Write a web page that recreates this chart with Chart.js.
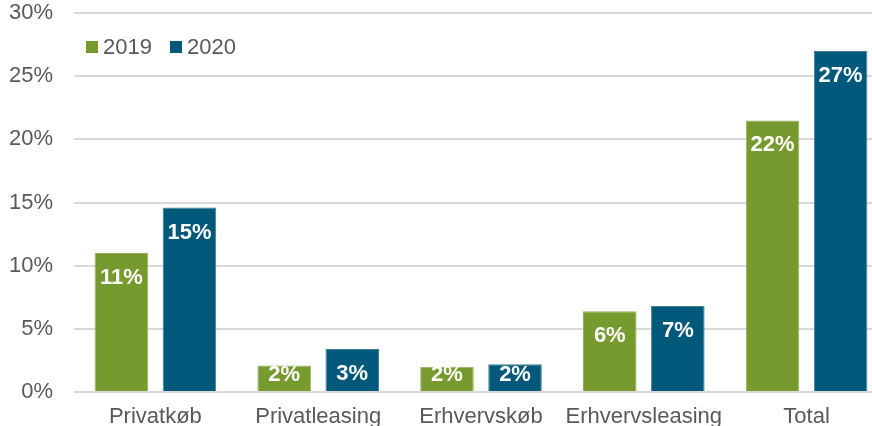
<!DOCTYPE html>
<html>
<head>
<meta charset="utf-8">
<script src="https://cdn.jsdelivr.net/npm/chart.js@4/dist/chart.umd.min.js"></script>
<style>
    html, body { margin: 0; padding: 0; background: #fff; overflow: hidden; }
    #wrap { position: relative; width: 888px; height: 426px; }
    #legend {
        position: absolute; left: 86px; top: 34px;
        font: 22px "Liberation Sans", Arial, sans-serif; color: #595959;
    }
    #legend span.box { display: inline-block; width: 12px; height: 12px; margin-right: 5px; vertical-align: 1px; }
    #legend span.item { margin-right: 18px; }
</style>
</head>
<body>
<div id="wrap">
    <canvas id="chart" width="888" height="426"></canvas>
    <div id="legend"></div>
</div>
<script>
// Andel (%) per kategori, 2019 vs 2020

const categories = ['Privatkøb', 'Privatleasing', 'Erhvervskøb', 'Erhvervsleasing', 'Total'];
const seriesNames = ['2019', '2020'];
const values2019 = [11.0, 2.1, 2.0, 6.4, 21.5];
const values2020 = [14.6, 3.4, 2.2, 6.8, 27.0];
const yTicks = [0, 5, 10, 15, 20, 25, 30];

const GREEN = '#779A2E';
const BLUE = '#00587A';
const TEXT = '#595959';
const FONT = '"Liberation Sans", Arial, sans-serif';

// Legend drawn as HTML inside the plot area
document.getElementById('legend').innerHTML = seriesNames.map((name, i) =>
    '<span class="item"><span class="box" style="background:' + [GREEN, BLUE][i] + '"></span>' + name + '</span>'
).join('');

// Custom plugin to draw value labels inside the top of each bar
const labelPlugin = {
    id: 'barLabels',
    afterDatasetsDraw(chart) {
        const { ctx, data } = chart;
        ctx.save();
        ctx.fillStyle = '#ffffff';
        ctx.font = 'bold 22px ' + FONT;
        ctx.textAlign = 'center';
        ctx.textBaseline = 'alphabetic';
        data.datasets.forEach((dataset, datasetIndex) => {
            const meta = chart.getDatasetMeta(datasetIndex);
            meta.data.forEach((bar, index) => {
                const value = dataset.data[index];
                // keep short bars' labels inside the bar
                const y = Math.min(bar.y + 31, bar.base - 10);
                ctx.fillText(Math.round(value) + '%', bar.x, y);
            });
        });
        ctx.restore();
    }
};

new Chart(document.getElementById('chart').getContext('2d'), {
    type: 'bar',
    data: {
        labels: categories,
        datasets: [
            { label: seriesNames[0], data: values2019, backgroundColor: GREEN, borderColor: '#93b25c', borderWidth: 1 },
            { label: seriesNames[1], data: values2020, backgroundColor: BLUE, borderColor: '#3f7f98', borderWidth: 1 }
        ]
    },
    options: {
        responsive: false,
        animation: false,
        layout: { padding: 0 },
        datasets: {
            bar: { categoryPercentage: 0.836, barPercentage: 0.787 }
        },
        plugins: {
            legend: { display: false },
            tooltip: { enabled: false }
        },
        scales: {
            x: {
                afterFit(scale) { scale.height = 34; },
                grid: { display: false, drawTicks: false },
                border: { display: false },
                ticks: { color: TEXT, font: { family: FONT, size: 22 }, padding: 12, maxRotation: 0 }
            },
            y: {
                min: 0,
                max: 30,
                afterFit(scale) {
                    scale.width = 74;
                    // tick padding would otherwise push the plot down
                    scale.paddingTop = 13;
                    scale.paddingBottom = 0;
                },
                afterBuildTicks(scale) { scale.ticks = yTicks.map(v => ({ value: v })); },
                grid: { color: '#d9d9d9', lineWidth: 2, drawTicks: false },
                border: { display: false },
                ticks: {
                    color: TEXT,
                    font: { family: FONT, size: 22 },
                    padding: 21,
                    callback: v => v + '%'
                }
            }
        }
    },
    plugins: [labelPlugin]
});
</script>
</body>
</html>
